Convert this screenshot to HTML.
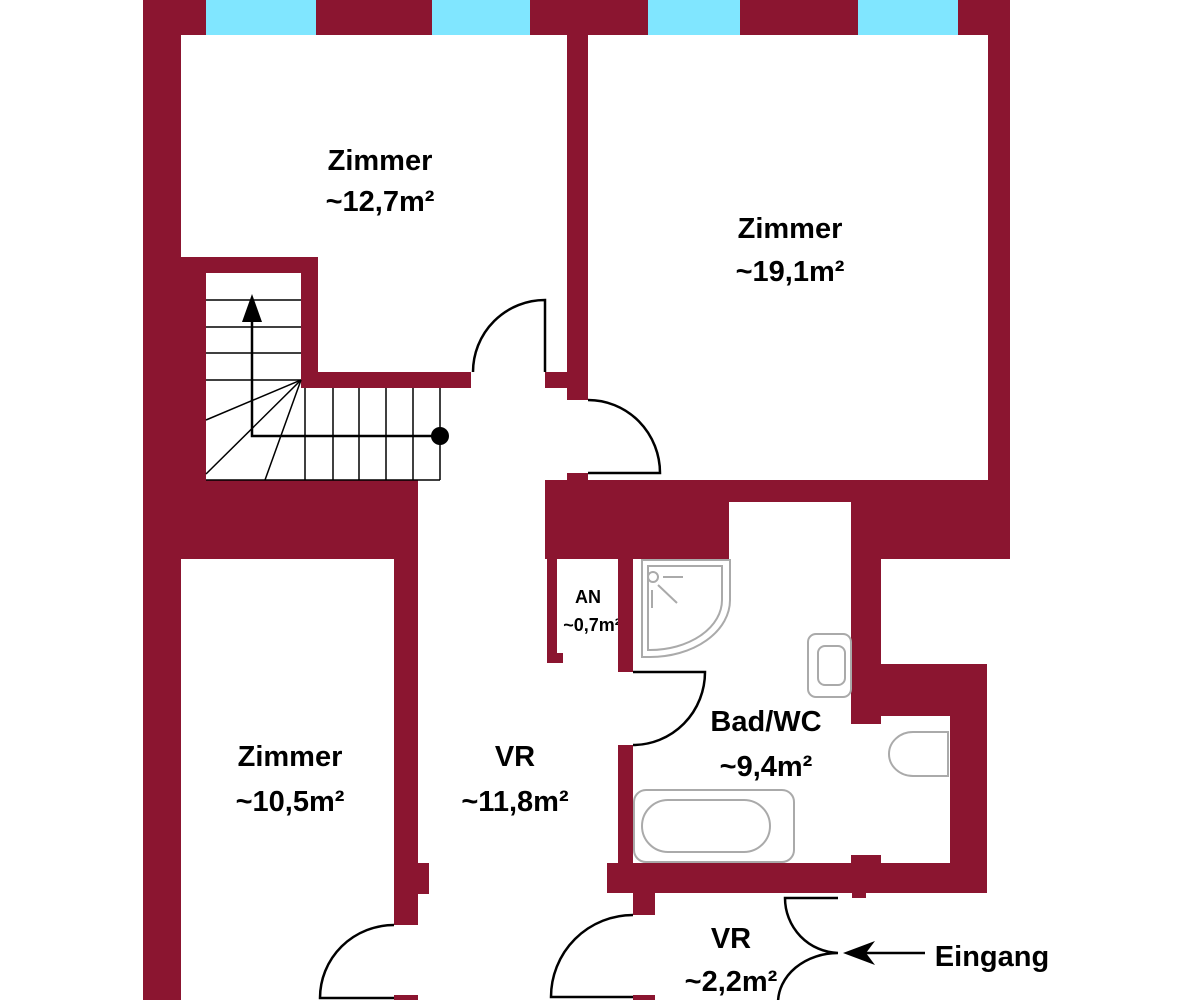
<!DOCTYPE html>
<html><head><meta charset="utf-8"><style>
html,body{margin:0;padding:0;background:#fff;width:1200px;height:1000px;overflow:hidden}
svg{display:block}
text{font-family:"Liberation Sans",sans-serif;font-weight:bold;fill:#000;text-anchor:middle}
</style></head><body>
<svg width="1200" height="1000" viewBox="0 0 1200 1000" xmlns="http://www.w3.org/2000/svg">
<text x="588" y="603" font-size="18">AN</text>
<text x="592" y="631" font-size="18">~0,7m²</text>
<g fill="#8B1530">
<rect x="143" y="0" width="867" height="35"/>
<rect x="143" y="0" width="38" height="1000"/>
<rect x="143" y="257" width="63" height="302"/>
<rect x="181" y="257" width="137" height="16"/>
<rect x="301" y="257" width="17" height="131"/>
<rect x="301" y="372" width="170" height="16"/>
<rect x="545" y="372" width="23" height="16"/>
<rect x="567" y="35" width="21" height="365"/>
<rect x="567" y="473" width="21" height="10"/>
<rect x="988" y="0" width="22" height="502"/>
<rect x="545" y="480" width="465" height="22"/>
<rect x="545" y="480" width="184" height="79"/>
<rect x="851" y="480" width="159" height="79"/>
<rect x="851" y="480" width="30" height="244"/>
<rect x="881" y="664" width="106" height="52"/>
<rect x="950" y="664" width="37" height="229"/>
<rect x="607" y="863" width="380" height="30"/>
<rect x="851" y="855" width="30" height="10"/>
<rect x="633" y="893" width="22" height="22"/>
<rect x="852" y="893" width="14" height="5"/>
<rect x="547" y="559" width="10" height="104"/>
<rect x="547" y="653" width="16" height="10"/>
<rect x="618" y="559" width="15" height="113"/>
<rect x="618" y="745" width="15" height="120"/>
<rect x="143" y="480" width="275" height="79"/>
<rect x="394" y="480" width="24" height="445"/>
<rect x="418" y="863" width="11" height="31"/>
<rect x="394" y="995" width="24" height="5"/>
<rect x="633" y="995" width="22" height="5"/>
</g>
<g fill="#80E6FF">
<rect x="206" y="0" width="110" height="35"/>
<rect x="432" y="0" width="98" height="35"/>
<rect x="648" y="0" width="92" height="35"/>
<rect x="858" y="0" width="100" height="35"/>
</g>
<g stroke="#000" stroke-width="1.5" fill="none">
<line x1="206" y1="300" x2="301" y2="300"/>
<line x1="206" y1="327" x2="301" y2="327"/>
<line x1="206" y1="353" x2="301" y2="353"/>
<line x1="206" y1="380" x2="301" y2="380"/>
<line x1="301" y1="380" x2="206" y2="420"/>
<line x1="301" y1="380" x2="206" y2="474"/>
<line x1="301" y1="380" x2="265" y2="480"/>
<line x1="206" y1="480" x2="440" y2="480"/>
<line x1="305" y1="388" x2="305" y2="480"/>
<line x1="333" y1="388" x2="333" y2="480"/>
<line x1="359" y1="388" x2="359" y2="480"/>
<line x1="386" y1="388" x2="386" y2="480"/>
<line x1="413" y1="388" x2="413" y2="480"/>
<line x1="440" y1="388" x2="440" y2="480"/>
</g>
<g stroke="#000" stroke-width="2.5" fill="none">
<polyline points="440,436 252,436 252,318"/>
<path d="M545,372 L545,300 A72,72 0 0 0 473,372"/>
<path d="M588,400 A72,73 0 0 1 660,473 L588,473"/>
<path d="M633,672 L705,672 A72,73 0 0 1 633,745"/>
<path d="M394,925 A74,73 0 0 0 320,998 L394,998"/>
<path d="M633,915 A82,82 0 0 0 551,997 L633,997"/>
<path d="M838,898 L785,898 A55,55 0 0 0 838,953 A60,50 0 0 0 778,1003"/>
<line x1="860" y1="953" x2="925" y2="953"/>
</g>
<polygon points="252,294 242,322 262,322" fill="#000"/>
<polygon points="843,953 875,941 866,953 875,965" fill="#000"/>
<circle cx="440" cy="436" r="9" fill="#000"/>
<g stroke="#aaa" stroke-width="2" fill="none">
<path d="M642,560 L730,560 L730,600 A80,57 0 0 1 650,657 L642,657 Z"/>
<path d="M648,566 L722,566 L722,600 A72,50 0 0 1 650,650 L648,650 Z"/>
<circle cx="653" cy="577" r="5"/>
<line x1="663" y1="577" x2="683" y2="577"/>
<line x1="658" y1="585" x2="677" y2="603"/>
<line x1="652" y1="590" x2="652" y2="608"/>
<rect x="808" y="634" width="43" height="63" rx="8"/>
<rect x="818" y="646" width="27" height="39" rx="7"/>
<path d="M948,732 L913,732 A24,22 0 0 0 913,776 L948,776 Z"/>
<rect x="634" y="790" width="160" height="72" rx="12"/>
<rect x="642" y="800" width="128" height="52" rx="26"/>
</g>
<text x="380" y="170" font-size="29">Zimmer</text>
<text x="380" y="211" font-size="29">~12,7m²</text>
<text x="790" y="238" font-size="29">Zimmer</text>
<text x="790" y="281" font-size="29">~19,1m²</text>
<text x="290" y="766" font-size="29">Zimmer</text>
<text x="290" y="811" font-size="29">~10,5m²</text>
<text x="515" y="766" font-size="29">VR</text>
<text x="515" y="811" font-size="29">~11,8m²</text>
<text x="766" y="731" font-size="29">Bad/WC</text>
<text x="766" y="776" font-size="29">~9,4m²</text>
<text x="731" y="948" font-size="29">VR</text>
<text x="731" y="991" font-size="29">~2,2m²</text>
<text x="992" y="966" font-size="29">Eingang</text>
</svg>
</body></html>
